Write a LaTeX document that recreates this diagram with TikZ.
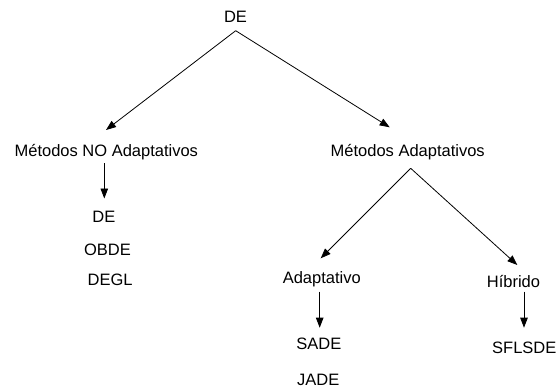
\documentclass[tikz,border=0pt]{standalone}
\usepackage{fontspec}
\setmainfont{Liberation Sans}
\usetikzlibrary{arrows.meta}
\begin{document}
\begin{tikzpicture}[x=1pt,y=-1pt,
  lbl/.style={anchor=base,inner sep=0pt,font=\fontsize{16.5}{19}\selectfont},
  arr/.style={-{Triangle[length=10pt,width=7.5pt]},line width=0.8pt}]
\useasboundingbox (0,0) rectangle (558,389);
% text nodes
\node[lbl] (root)  at (235.5,22.7) {DE};
\node[lbl] (nonad) at (106.3,156)  {Métodos NO Adaptativos};
\node[lbl] (ad)    at (407.7,156)  {Métodos Adaptativos};
\node[lbl] (de2)   at (103.8,222.3) {DE};
\node[lbl] (obde)  at (107.5,255.7) {OBDE};
\node[lbl] (degl)  at (110.2,285.7) {DEGL};
\node[lbl] (adap)  at (321.8,283.3) {Adaptativo};
\node[lbl] (hib)   at (513.5,287.7) {Híbrido};
\node[lbl] (sade)  at (318.8,349)   {SADE};
\node[lbl] (sfl)   at (524.3,353.3) {SFLSDE};
\node[lbl] (jade)  at (318.2,385)   {JADE};
% connector end points
\coordinate (rootOut) at (235.7,30.7);
\coordinate (nonadIn) at (106,130);
\coordinate (adIn)    at (389.7,127.3);
\coordinate (nonadOut) at (104.3,163.3);
\coordinate (de2In)   at (104.3,198.5);
\coordinate (adOut)   at (410.7,168.3);
\coordinate (adapIn)  at (320.7,258.3);
\coordinate (hibIn)   at (517.3,265);
\coordinate (adapOut) at (319.7,291.7);
\coordinate (sadeIn)  at (319.7,327.7);
\coordinate (hibOut)  at (524,291.7);
\coordinate (sflIn)   at (524,327.7);
% connectors
\draw[arr] (rootOut) -- (nonadIn);
\draw[arr] (rootOut) -- (adIn);
\draw[arr] (nonadOut) -- (de2In);
\draw[arr] (adOut) -- (adapIn);
\draw[arr] (adOut) -- (hibIn);
\draw[arr] (adapOut) -- (sadeIn);
\draw[arr] (hibOut) -- (sflIn);
\end{tikzpicture}
\end{document}
